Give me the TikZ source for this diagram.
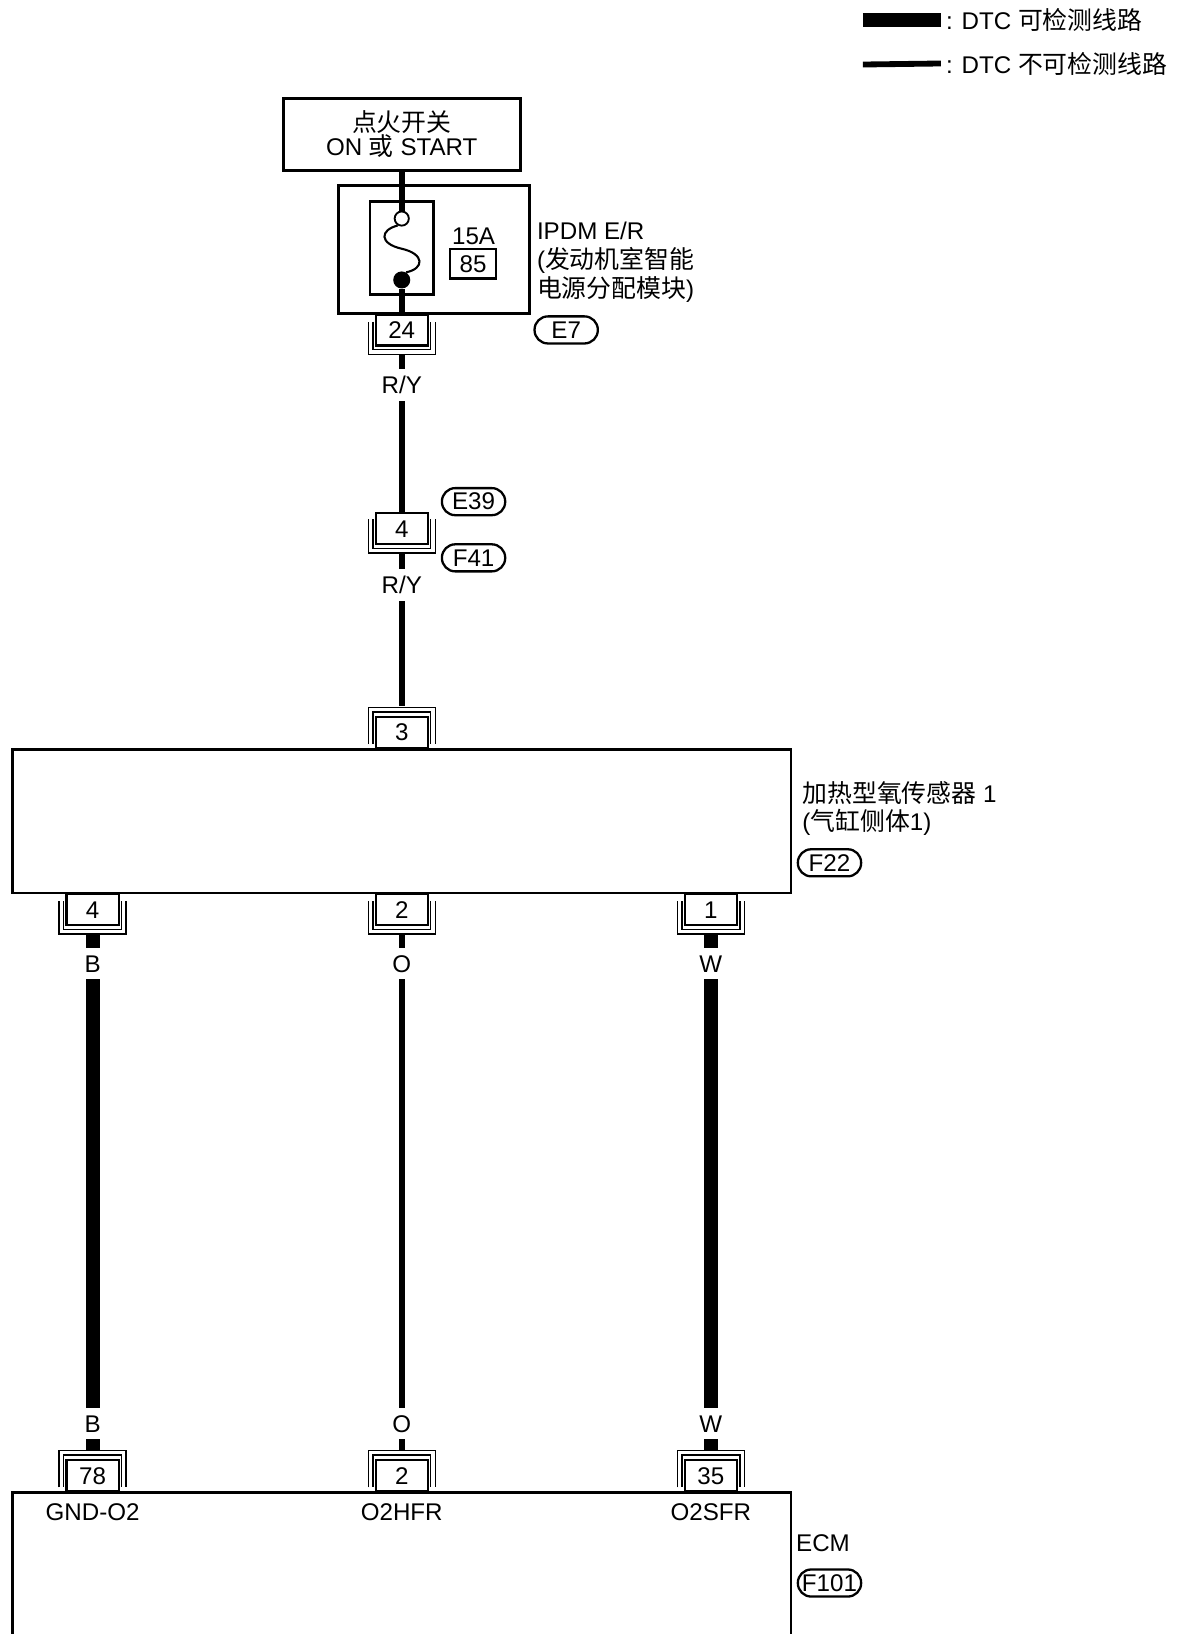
\documentclass[tikz,border=0pt]{standalone}
\usepackage{fontspec}
\setmainfont{Liberation Sans}
\newfontfamily\zhfont[Scale=1.03]{Noto Sans CJK SC}
\begin{document}
\begin{tikzpicture}[x=0.25mm, y=-0.25mm,
      font=\fontsize{16.5}{19.5}\selectfont,
      Bx/.style={draw, line width=0.7mm, inner sep=0pt},
      Pin/.style={draw, fill=white, line width=0.55mm, minimum width=12.5mm, minimum height=7.5mm, inner sep=0pt},
      Tag/.style={draw, rounded corners=3.2mm, line width=0.55mm, minimum width=15.2mm, minimum height=6.5mm, inner sep=1pt},
      Br/.style={double, double distance=0.75mm, line width=0.35mm},
      Wd/.style={line width=3.4mm},
      Wn/.style={line width=1.4mm},
      Lb/.style={fill=white, inner sep=0pt, minimum width=5mm, minimum height=7.5mm}
    ]
    \useasboundingbox (0,0) rectangle (1130,1570);
    % legend
    \node [anchor=west] (lg1) at (904,19) {: DTC {\zhfont 可检测线路}};
    \node [anchor=west] (lg2) at (904,61) {: DTC {\zhfont 不可检测线路}};
    \draw [Wd] (829,19) -- (lg1.west);
    \draw [Wn] (829,62) -- (lg2.west);
    % ignition switch and IPDM
    \node [Bx, minimum width=57mm, minimum height=17.25mm, align=center, font=\fontsize{16.5}{16.5}\selectfont] (ign) at (386,129) {{\zhfont 点火开关}\\ON {\zhfont 或} START};
    \node [Bx, minimum width=45.9mm, minimum height=30.75mm] (ipdm) at (416.8,239.5) {};
    \node [Bx, minimum width=15.25mm, minimum height=22.4mm] (fbox) at (386,238.6) {};
    \node [circle, draw, fill=white, line width=0.45mm, minimum size=3.4mm, inner sep=0pt] (fo) at (386,210) {};
    \node [circle, fill, minimum size=4.1mm, inner sep=0pt] (fc) at (386,269) {};
    \node (fa) at (455,227) {15A};
    \node [Pin, minimum width=11mm, minimum height=7mm] (fn) at (454.5,253.5) {85};
    \node [anchor=west, align=left] (ipdmlb) at (511,252) {IPDM E/R\\({\zhfont 发动机室智能}\\{\zhfont 电源分配模块})};
    \node [Tag] (e7) at (544,317) {E7};
    \node [Pin, anchor=north] (p24) at (386,301) {24};
    % joint connector
    \node [Pin] (c4) at (386,508) {4};
    \node [Tag] (e39) at (455,482) {E39};
    \node [Tag] (f41) at (455,536) {F41};
    % heated oxygen sensor
    \node [Pin, anchor=south] (p3) at (386,720) {3};
    \node [Bx, minimum width=187mm, minimum height=34.5mm] (sen) at (386,789) {};
    \node [anchor=west, align=left] (senlb) at (766,777) {{\zhfont 加热型氧传感器} 1\\({\zhfont 气缸侧体}1)};
    \node [Tag] (f22) at (797,829) {F22};
    \node [Pin, anchor=north] (s4) at (89,858) {4};
    \node [Pin, anchor=north] (s2) at (386,858) {2};
    \node [Pin, anchor=north] (s1) at (683,858) {1};
    % ECM
    \draw [line width=0.7mm] (12,1570) |- (760,1434) -- (760,1570);
    \node [anchor=west] (ecmlb) at (760,1483) {ECM};
    \node [Tag] (f101) at (797,1521) {F101};
    \node [Pin, anchor=south] (e78) at (89,1434) {78};
    \node [Pin, anchor=south] (e2) at (386,1434) {2};
    \node [Pin, anchor=south] (e35) at (683,1434) {35};
    \node (gnd) at (89,1453) {GND-O2};
    \node (hfr) at (386,1453) {O2HFR};
    \node (sfr) at (683,1453) {O2SFR};
    % wires
    \draw [Wn] (ign.south) -- (fo.north);
    \draw [line width=0.5mm] (fo.240) .. controls (365,221) and (364,234) .. (386,239) .. controls (408,244) and (408,258) .. (fc.60);
    \draw [Wn] (fc) -- (p24.north);
    \draw [Wn] ([shift={(0,8)}]p24.south) -- (c4.north);
    \draw [Wn] ([shift={(0,8)}]c4.south) -- ([shift={(0,-9)}]p3.north);
    \draw [Wd] ([shift={(0,8)}]s4.south) -- ([shift={(0,-9)}]e78.north);
    \draw [Wn] ([shift={(0,8)}]s2.south) -- ([shift={(0,-9)}]e2.north);
    \draw [Wd] ([shift={(0,8)}]s1.south) -- ([shift={(0,-9)}]e35.north);
    \node [Lb] (ry1) at (386,370) {R/Y};
    \node [Lb] (ry2) at (386,562) {R/Y};
    \node [Lb] (b1) at (89,926) {B};
    \node [Lb] (o1) at (386,926) {O};
    \node [Lb] (w1) at (683,926) {W};
    \node [Lb] (b2) at (89,1368) {B};
    \node [Lb] (o2) at (386,1368) {O};
    \node [Lb] (w2) at (683,1368) {W};
    % connector brackets
    \draw [Br] ([shift={(-30,8)}]p24.north) |- ([shift={(0,5)}]p24.south) -| ([shift={(30,8)}]p24.north);
    \draw [Br] ([shift={(-30,7)}]c4.north) |- ([shift={(0,5)}]c4.south) -| ([shift={(30,7)}]c4.north);
    \draw [Br] ([shift={(-30,-5)}]p3.south) |- ([shift={(0,-6)}]p3.north) -| ([shift={(30,-5)}]p3.south);
    \draw [Br] ([shift={(-30,8)}]s4.north) |- ([shift={(0,5)}]s4.south) -| ([shift={(30,8)}]s4.north);
    \draw [Br] ([shift={(-30,8)}]s2.north) |- ([shift={(0,5)}]s2.south) -| ([shift={(30,8)}]s2.north);
    \draw [Br] ([shift={(-30,8)}]s1.north) |- ([shift={(0,5)}]s1.south) -| ([shift={(30,8)}]s1.north);
    \draw [Br] ([shift={(-30,-5)}]e78.south) |- ([shift={(0,-6)}]e78.north) -| ([shift={(30,-5)}]e78.south);
    \draw [Br] ([shift={(-30,-5)}]e2.south) |- ([shift={(0,-6)}]e2.north) -| ([shift={(30,-5)}]e2.south);
    \draw [Br] ([shift={(-30,-5)}]e35.south) |- ([shift={(0,-6)}]e35.north) -| ([shift={(30,-5)}]e35.south);
  \end{tikzpicture}
\end{document}
